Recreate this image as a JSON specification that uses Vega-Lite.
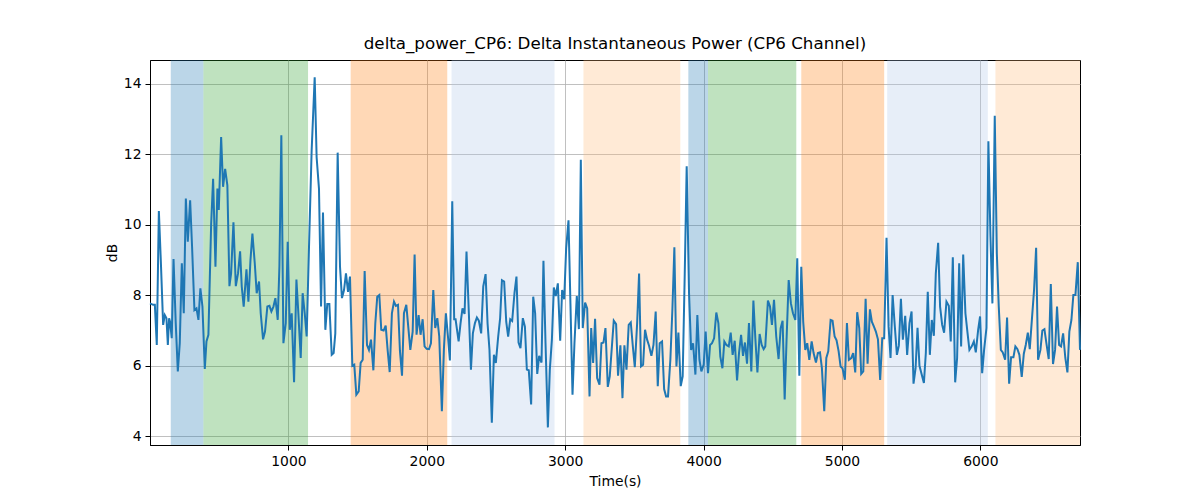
{
  "$schema": "https://vega.github.io/schema/vega-lite/v6.json",
  "width": 930,
  "height": 385,
  "autosize": {"type": "none"},
  "padding": {"left": 150, "top": 60, "right": 120, "bottom": 55},
  "background": "white",
  "title": {"text": "delta_power_CP6: Delta Instantaneous Power (CP6 Channel)", "font": "DejaVu Sans", "fontSize": 16.7, "fontWeight": "normal", "color": "black", "offset": 7},
  "config": {
    "view": {"stroke": "black", "strokeWidth": 1},
    "axis": {
      "labelFont": "DejaVu Sans", "labelFontSize": 13.9, "labelColor": "black",
      "titleFont": "DejaVu Sans", "titleFontSize": 13.9, "titleFontWeight": "normal", "titleColor": "black",
      "tickColor": "black", "tickSize": 5, "domainColor": "black", "labelPadding": 4,
      "gridColor": "#b0b0b0", "gridWidth": 0.8
    }
  },
  "datasets": {
    "bands": [
      {"start": 150, "end": 386, "phase": "p1"},
      {"start": 386, "end": 1142, "phase": "p2"},
      {"start": 1450, "end": 2148, "phase": "p3"},
      {"start": 2179, "end": 2923, "phase": "p4"},
      {"start": 3132, "end": 3832, "phase": "p5"},
      {"start": 3890, "end": 4032, "phase": "p1"},
      {"start": 4032, "end": 4670, "phase": "p2"},
      {"start": 4706, "end": 5305, "phase": "p3"},
      {"start": 5327, "end": 6054, "phase": "p4"},
      {"start": 6109, "end": 6720, "phase": "p5"}
    ],
    "signal": [
      {"t":0,"v":7.77},{"t":23,"v":7.73},{"t":35,"v":7.73},{"t":49,"v":6.59},{"t":64,"v":10.39},{"t":78,"v":9.0},{"t":95,"v":7.16},{"t":107,"v":7.44},{"t":119,"v":7.35},{"t":129,"v":6.59},{"t":138,"v":7.35},{"t":145,"v":7.25},{"t":157,"v":6.78},{"t":170,"v":9.03},{"t":186,"v":7.21},{"t":201,"v":5.84},{"t":215,"v":6.64},{"t":230,"v":8.91},{"t":244,"v":7.49},{"t":259,"v":10.75},{"t":273,"v":9.52},{"t":290,"v":10.7},{"t":304,"v":9.38},{"t":321,"v":7.58},{"t":336,"v":7.63},{"t":350,"v":7.3},{"t":364,"v":8.2},{"t":379,"v":7.68},{"t":396,"v":5.91},{"t":408,"v":6.69},{"t":422,"v":6.88},{"t":442,"v":10.04},{"t":456,"v":11.31},{"t":473,"v":8.81},{"t":487,"v":11.03},{"t":497,"v":10.42},{"t":514,"v":12.49},{"t":528,"v":11.08},{"t":543,"v":11.59},{"t":559,"v":11.12},{"t":574,"v":8.26},{"t":586,"v":8.62},{"t":603,"v":10.07},{"t":620,"v":8.26},{"t":636,"v":8.62},{"t":651,"v":9.25},{"t":663,"v":8.25},{"t":677,"v":7.68},{"t":697,"v":8.74},{"t":711,"v":7.82},{"t":726,"v":9.0},{"t":740,"v":9.75},{"t":757,"v":8.91},{"t":771,"v":8.06},{"t":788,"v":8.39},{"t":800,"v":7.49},{"t":817,"v":6.75},{"t":831,"v":6.97},{"t":848,"v":7.68},{"t":863,"v":7.7},{"t":877,"v":7.54},{"t":892,"v":7.68},{"t":906,"v":7.92},{"t":923,"v":7.3},{"t":935,"v":8.81},{"t":949,"v":12.54},{"t":964,"v":6.64},{"t":981,"v":7.21},{"t":995,"v":9.52},{"t":1010,"v":7.02},{"t":1024,"v":7.49},{"t":1041,"v":5.53},{"t":1058,"v":8.45},{"t":1072,"v":7.49},
      {"t":1089,"v":6.22},{"t":1103,"v":8.06},{"t":1118,"v":7.49},{"t":1132,"v":6.83},{"t":1149,"v":9.38},{"t":1168,"v":12.11},{"t":1190,"v":14.19},{"t":1204,"v":11.92},{"t":1221,"v":11.03},{"t":1236,"v":7.68},{"t":1250,"v":10.35},{"t":1267,"v":7.02},{"t":1281,"v":7.75},{"t":1296,"v":7.75},{"t":1313,"v":6.31},{"t":1327,"v":6.36},{"t":1339,"v":6.92},{"t":1356,"v":12.05},{"t":1373,"v":8.81},{"t":1387,"v":7.92},{"t":1402,"v":8.15},{"t":1416,"v":8.62},{"t":1431,"v":8.1},{"t":1445,"v":8.53},{"t":1462,"v":6.0},{"t":1476,"v":6.03},{"t":1491,"v":5.18},{"t":1508,"v":5.27},{"t":1522,"v":6.08},{"t":1537,"v":6.17},{"t":1551,"v":8.69},{"t":1568,"v":6.59},{"t":1582,"v":6.45},{"t":1597,"v":6.74},{"t":1614,"v":5.87},{"t":1628,"v":7.21},{"t":1642,"v":7.96},{"t":1657,"v":8.01},{"t":1671,"v":7.02},{"t":1688,"v":7.0},{"t":1703,"v":7.14},{"t":1717,"v":6.45},{"t":1732,"v":5.82},{"t":1748,"v":7.49},{"t":1763,"v":7.82},{"t":1777,"v":7.7},{"t":1792,"v":7.73},{"t":1806,"v":6.42},{"t":1821,"v":5.72},{"t":1835,"v":7.49},{"t":1852,"v":7.73},{"t":1866,"v":7.11},{"t":1881,"v":6.45},{"t":1898,"v":6.97},{"t":1912,"v":9.16},{"t":1926,"v":6.88},{"t":1941,"v":7.44},{"t":1955,"v":6.88},{"t":1970,"v":7.32},{"t":1984,"v":6.55},{"t":1999,"v":6.48},{"t":2016,"v":6.47},{"t":2030,"v":6.64},{"t":2047,"v":8.15},{"t":2061,"v":7.07},{"t":2076,"v":7.35},{"t":2090,"v":6.83},{"t":2109,"v":4.71},{"t":2124,"v":6.5},{"t":2138,"v":7.49},{"t":2153,"v":6.83},{"t":2167,"v":6.15},{"t":2184,"v":10.67},{"t":2198,"v":7.32},
      {"t":2208,"v":7.32},{"t":2230,"v":6.69},{"t":2244,"v":7.21},{"t":2258,"v":7.63},{"t":2273,"v":7.47},{"t":2287,"v":9.24},{"t":2304,"v":7.49},{"t":2319,"v":5.89},{"t":2333,"v":6.92},{"t":2348,"v":7.21},{"t":2362,"v":7.37},{"t":2376,"v":7.28},{"t":2393,"v":6.92},{"t":2408,"v":8.25},{"t":2425,"v":8.6},{"t":2439,"v":7.21},{"t":2453,"v":6.45},{"t":2470,"v":4.38},{"t":2485,"v":6.31},{"t":2499,"v":6.08},{"t":2516,"v":6.83},{"t":2530,"v":7.35},{"t":2543,"v":8.43},{"t":2559,"v":8.39},{"t":2574,"v":7.25},{"t":2588,"v":6.83},{"t":2603,"v":7.32},{"t":2617,"v":7.27},{"t":2634,"v":8.08},{"t":2648,"v":8.53},{"t":2663,"v":6.66},{"t":2677,"v":6.5},{"t":2694,"v":7.35},{"t":2709,"v":7.11},{"t":2723,"v":5.89},{"t":2737,"v":5.87},{"t":2754,"v":4.9},{"t":2769,"v":7.96},{"t":2783,"v":7.49},{"t":2798,"v":5.77},{"t":2812,"v":6.28},{"t":2829,"v":6.09},{"t":2843,"v":8.98},{"t":2858,"v":6.64},{"t":2875,"v":4.25},{"t":2889,"v":5.89},{"t":2904,"v":6.74},{"t":2918,"v":8.22},{"t":2932,"v":7.98},{"t":2947,"v":8.34},{"t":2964,"v":6.71},{"t":2978,"v":8.15},{"t":2993,"v":7.89},{"t":3007,"v":9.33},{"t":3024,"v":10.13},{"t":3038,"v":7.77},{"t":3053,"v":5.18},{"t":3067,"v":6.64},{"t":3084,"v":7.98},{"t":3099,"v":7.04},{"t":3113,"v":11.85},{"t":3127,"v":7.07},{"t":3144,"v":7.79},{"t":3159,"v":7.63},{"t":3176,"v":5.13},{"t":3188,"v":7.07},{"t":3202,"v":6.08},{"t":3216,"v":7.33},{"t":3231,"v":5.65},{"t":3248,"v":5.46},{"t":3262,"v":6.64},{"t":3277,"v":6.66},{"t":3291,"v":7.07},{"t":3308,"v":5.4},{"t":3322,"v":5.7},
      {"t":3351,"v":7.28},{"t":3368,"v":7.18},{"t":3382,"v":5.72},{"t":3399,"v":6.58},{"t":3414,"v":5.08},{"t":3428,"v":6.58},{"t":3443,"v":5.89},{"t":3459,"v":7.16},{"t":3474,"v":7.23},{"t":3488,"v":6.59},{"t":3503,"v":5.96},{"t":3520,"v":7.21},{"t":3534,"v":8.62},{"t":3548,"v":5.98},{"t":3563,"v":6.03},{"t":3577,"v":7.02},{"t":3592,"v":6.74},{"t":3606,"v":6.57},{"t":3623,"v":6.28},{"t":3638,"v":6.59},{"t":3654,"v":7.54},{"t":3669,"v":5.42},{"t":3683,"v":6.64},{"t":3700,"v":6.69},{"t":3715,"v":5.34},{"t":3729,"v":5.13},{"t":3743,"v":5.13},{"t":3760,"v":6.17},{"t":3775,"v":7.63},{"t":3789,"v":9.36},{"t":3804,"v":5.98},{"t":3818,"v":6.94},{"t":3835,"v":5.42},{"t":3849,"v":5.7},{"t":3864,"v":8.62},{"t":3878,"v":11.66},{"t":3895,"v":8.06},{"t":3910,"v":6.45},{"t":3924,"v":6.64},{"t":3941,"v":5.75},{"t":3955,"v":7.44},{"t":3970,"v":6.17},{"t":3984,"v":5.84},{"t":4001,"v":6.03},{"t":4015,"v":6.97},{"t":4032,"v":5.79},{"t":4047,"v":6.59},{"t":4061,"v":6.64},{"t":4076,"v":6.78},{"t":4092,"v":7.51},{"t":4107,"v":7.21},{"t":4121,"v":6.26},{"t":4136,"v":5.93},{"t":4150,"v":6.69},{"t":4165,"v":6.59},{"t":4182,"v":6.55},{"t":4196,"v":6.94},{"t":4210,"v":6.31},{"t":4225,"v":6.71},{"t":4242,"v":5.58},{"t":4256,"v":6.36},{"t":4271,"v":6.88},{"t":4285,"v":6.28},{"t":4299,"v":6.66},{"t":4314,"v":6.06},{"t":4328,"v":7.21},{"t":4345,"v":5.84},{"t":4360,"v":7.85},{"t":4374,"v":6.78},{"t":4389,"v":5.81},{"t":4405,"v":6.9},{"t":4420,"v":6.59},{"t":4434,"v":6.47},
      {"t":4446,"v":6.55},{"t":4465,"v":7.85},{"t":4480,"v":7.68},{"t":4494,"v":7.16},{"t":4509,"v":7.87},{"t":4525,"v":6.83},{"t":4542,"v":6.19},{"t":4557,"v":7.07},{"t":4571,"v":7.28},{"t":4586,"v":5.04},{"t":4600,"v":6.78},{"t":4615,"v":8.43},{"t":4631,"v":7.77},{"t":4646,"v":7.49},{"t":4663,"v":7.3},{"t":4677,"v":9.05},{"t":4692,"v":5.72},{"t":4706,"v":8.81},{"t":4720,"v":7.25},{"t":4735,"v":6.45},{"t":4749,"v":6.64},{"t":4764,"v":6.17},{"t":4781,"v":6.69},{"t":4795,"v":6.36},{"t":4812,"v":6.09},{"t":4826,"v":6.36},{"t":4841,"v":6.38},{"t":4855,"v":5.93},{"t":4872,"v":4.71},{"t":4887,"v":6.22},{"t":4901,"v":6.41},{"t":4918,"v":7.3},{"t":4932,"v":7.28},{"t":4947,"v":6.83},{"t":4961,"v":6.72},{"t":4976,"v":6.41},{"t":4990,"v":5.98},{"t":5004,"v":5.93},{"t":5021,"v":5.6},{"t":5036,"v":7.21},{"t":5050,"v":6.17},{"t":5067,"v":6.22},{"t":5081,"v":6.36},{"t":5096,"v":5.81},{"t":5110,"v":7.52},{"t":5125,"v":7.07},{"t":5139,"v":5.77},{"t":5154,"v":5.84},{"t":5171,"v":7.9},{"t":5185,"v":6.06},{"t":5202,"v":7.6},{"t":5216,"v":7.25},{"t":5231,"v":7.11},{"t":5245,"v":6.97},{"t":5260,"v":6.75},{"t":5276,"v":5.6},{"t":5291,"v":6.78},{"t":5305,"v":6.78},{"t":5322,"v":9.63},{"t":5337,"v":7.11},{"t":5351,"v":6.22},{"t":5366,"v":8.01},{"t":5382,"v":7.11},{"t":5397,"v":6.31},{"t":5411,"v":6.57},{"t":5426,"v":7.9},{"t":5440,"v":6.74},{"t":5457,"v":7.42},{"t":5471,"v":6.31},{"t":5488,"v":7.21},{"t":5503,"v":7.54},{"t":5517,"v":5.49},{"t":5532,"v":5.93},{"t":5546,"v":7.08},{"t":5560,"v":6.0},
      {"t":5592,"v":5.51},{"t":5606,"v":6.36},{"t":5620,"v":8.1},{"t":5635,"v":6.31},{"t":5649,"v":7.3},{"t":5664,"v":6.85},{"t":5678,"v":8.62},{"t":5695,"v":9.49},{"t":5709,"v":7.68},{"t":5724,"v":7.16},{"t":5738,"v":6.94},{"t":5755,"v":7.82},{"t":5772,"v":7.7},{"t":5786,"v":6.69},{"t":5801,"v":9.08},{"t":5818,"v":5.53},{"t":5832,"v":6.22},{"t":5847,"v":8.91},{"t":5861,"v":6.55},{"t":5876,"v":9.16},{"t":5892,"v":7.49},{"t":5907,"v":6.94},{"t":5921,"v":6.45},{"t":5938,"v":6.55},{"t":5953,"v":6.69},{"t":5967,"v":6.38},{"t":5984,"v":7.02},{"t":5998,"v":7.4},{"t":6013,"v":5.79},{"t":6027,"v":6.45},{"t":6044,"v":7.07},{"t":6058,"v":12.37},{"t":6073,"v":9.66},{"t":6087,"v":7.77},{"t":6104,"v":13.1},{"t":6119,"v":9.19},{"t":6133,"v":7.68},{"t":6148,"v":6.45},{"t":6162,"v":6.38},{"t":6179,"v":6.17},{"t":6193,"v":7.37},{"t":6208,"v":5.49},{"t":6222,"v":6.24},{"t":6239,"v":6.24},{"t":6253,"v":6.55},{"t":6268,"v":6.47},{"t":6282,"v":6.31},{"t":6299,"v":5.68},{"t":6314,"v":6.34},{"t":6328,"v":6.59},{"t":6343,"v":6.94},{"t":6357,"v":6.47},{"t":6374,"v":7.4},{"t":6388,"v":8.15},{"t":6403,"v":9.35},{"t":6417,"v":6.17},{"t":6434,"v":6.45},{"t":6448,"v":7.0},{"t":6463,"v":7.04},{"t":6477,"v":6.64},{"t":6494,"v":6.19},{"t":6509,"v":8.32},{"t":6525,"v":6.05},{"t":6540,"v":6.45},{"t":6554,"v":7.68},{"t":6569,"v":6.59},{"t":6583,"v":6.55},{"t":6598,"v":6.92},{"t":6614,"v":6.22},{"t":6629,"v":5.81},{"t":6643,"v":6.97},{"t":6658,"v":7.3},{"t":6672,"v":8.01},{"t":6687,"v":8.01},{"t":6704,"v":8.94},{"t":6720,"v":6.45}
    ]
  },
  "layer": [
    {
      "data": {"name": "bands"},
      "mark": {"type": "rect", "opacity": 0.3},
      "encoding": {
        "x": {"field": "start", "type": "quantitative", "title": "Time(s)",
              "scale": {"domain": [0, 6720], "nice": false, "zero": false},
              "axis": {"values": [1000, 2000, 3000, 4000, 5000, 6000], "format": "d", "titlePadding": 7}},
        "x2": {"field": "end"},
        "color": {"field": "phase", "type": "nominal", "legend": null,
                  "scale": {"domain": ["p1", "p2", "p3", "p4", "p5"],
                            "range": ["#1f77b4", "#2ca02c", "#ff7f0e", "#aec7e8", "#ffbb78"]}}
      }
    },
    {
      "data": {"name": "signal"},
      "mark": {"type": "line", "color": "#1f77b4", "strokeWidth": 2},
      "encoding": {
        "x": {"field": "t", "type": "quantitative", "title": "Time(s)"},
        "y": {"field": "v", "type": "quantitative", "title": "dB",
              "scale": {"domain": [3.75, 14.68], "nice": false, "zero": false},
              "axis": {"values": [4, 6, 8, 10, 12, 14]}}
      }
    }
  ]
}
